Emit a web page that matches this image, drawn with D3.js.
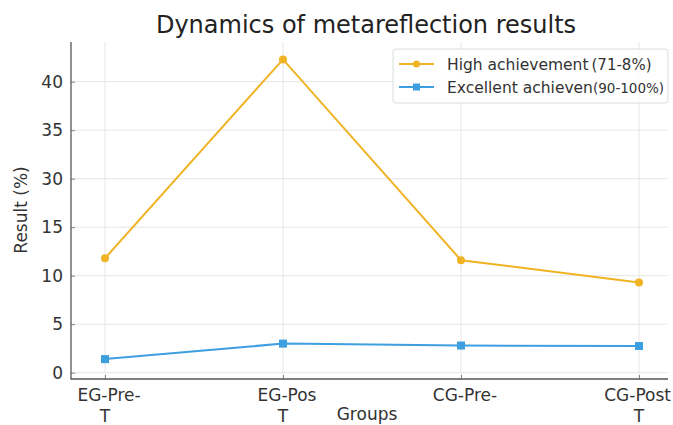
<!DOCTYPE html>
<html>
<head>
<meta charset="utf-8">
<script src="https://cdn.jsdelivr.net/npm/d3@7/dist/d3.min.js"></script>
<style>
  html, body { margin: 0; padding: 0; background: #fff; }
  svg { display: block; font-family: "DejaVu Sans", sans-serif; }
</style>
</head>
<body>
<svg id="chart" width="673" height="425"></svg>
<script>
// Groups along the x axis (each label may wrap onto a second line)
const groups = ["EG-Pre-T", "EG-Post-T", "CG-Pre-", "CG-Post-T"];
const groupLabels = [["EG-Pre-", "T"], ["EG-Pos", "T"], ["CG-Pre-", ""], ["CG-Post", "T"]];

// Series values (%)
const highAchievement = [11.8, 42.3, 11.6, 9.3];
const excellentAchievement = [1.4, 3.0, 2.8, 2.75];

// Y axis ticks as printed on the axis
const yTickValues = [0, 5, 10, 15, 30, 35, 40];
const yTickLabels = ["0", "5", "10", "15", "30", "35", "40"];

const seriesNames = ["High achievement", "Excellent achieven"];
const seriesNotes = ["(71-8%)", "(90-100%)"];

const colors = { high: "#f0b323", excellent: "#3d9fe0" };

const width = 673;
const svg = d3.select("#chart");
const plot = { left: 71, right: 668, top: 42, bottom: 379 };

// x positions of the categories
const x = d3.scalePoint().domain(groups).range([105, 639]);

// The printed ticks are evenly spaced, so the scale is piecewise linear
const tickStep = 48.5;
const y0 = 372.7;
const y = d3.scaleLinear()
  .domain(yTickValues)
  .range(yTickValues.map((d, i) => y0 - i * tickStep));

// Grid
const grid = svg.append("g").attr("stroke", "#e6e6e6").attr("stroke-width", 1);
grid.selectAll("line.h").data(yTickValues).join("line")
  .attr("x1", plot.left).attr("x2", plot.right)
  .attr("y1", d => y(d)).attr("y2", d => y(d));
grid.selectAll("line.v").data(groups).join("line")
  .attr("x1", d => x(d)).attr("x2", d => x(d))
  .attr("y1", plot.top).attr("y2", plot.bottom);

// Axes
const yAxis = d3.axisLeft(y).tickValues(yTickValues)
  .tickFormat((d, i) => yTickLabels[i]).tickSizeInner(-4).tickSizeOuter(0).tickPadding(8);
const gy = svg.append("g").attr("transform", `translate(${plot.left},0)`).call(yAxis);
gy.select(".domain").remove();
gy.selectAll(".tick line").attr("stroke", "#888");
gy.selectAll(".tick text").attr("font-size", 17).attr("fill", "#333")
  .attr("font-family", "DejaVu Sans, sans-serif");

const xAxis = d3.axisBottom(x).tickSizeInner(-4).tickSizeOuter(0).tickFormat("");
const gx = svg.append("g").attr("transform", `translate(0,${plot.bottom})`).call(xAxis);
gx.select(".domain").remove();
gx.selectAll(".tick line").attr("stroke", "#888");

// Spines
svg.append("line").attr("x1", plot.left).attr("x2", plot.left)
  .attr("y1", plot.top).attr("y2", plot.bottom + 0.5)
  .attr("stroke", "#555").attr("stroke-width", 1.3);
svg.append("line").attr("x1", plot.left).attr("x2", plot.right)
  .attr("y1", plot.bottom).attr("y2", plot.bottom)
  .attr("stroke", "#555").attr("stroke-width", 1.3);

// X tick labels (two lines), kept inside the right edge
const xl = svg.append("g").attr("font-size", 17).attr("fill", "#333").attr("text-anchor", "middle");
groups.forEach((g, i) => {
  const t = xl.append("text").attr("y", plot.bottom + 22);
  const first = t.append("tspan").attr("x", x(g) + 4).text(groupLabels[i][0]);
  const w = first.node().getComputedTextLength();
  const cx = Math.min(x(g) + 4, width - 2 - w / 2);
  first.attr("x", cx);
  t.append("tspan").attr("x", x(g)).attr("dy", 21).text(groupLabels[i][1]);
});

// Axis titles
svg.append("text").attr("x", 367).attr("y", 420).attr("text-anchor", "middle")
  .attr("font-size", 17).attr("fill", "#333").text("Groups");
svg.append("text").attr("transform", "translate(27,210) rotate(-90)")
  .attr("text-anchor", "middle").attr("font-size", 17).attr("fill", "#333").text("Result (%)");

// Title
svg.append("text").attr("x", 366).attr("y", 33).attr("text-anchor", "middle")
  .attr("font-size", 24).attr("fill", "#222").text("Dynamics of metareflection results");

// Lines and markers
const line = d3.line().x((d, i) => x(groups[i])).y(d => y(d));

svg.append("path").datum(highAchievement).attr("d", line)
  .attr("fill", "none").attr("stroke", colors.high).attr("stroke-width", 2);
svg.append("g").selectAll("circle").data(highAchievement).join("circle")
  .attr("cx", (d, i) => x(groups[i])).attr("cy", d => y(d)).attr("r", 4)
  .attr("fill", colors.high);

svg.append("path").datum(excellentAchievement).attr("d", line)
  .attr("fill", "none").attr("stroke", colors.excellent).attr("stroke-width", 2);
svg.append("g").selectAll("rect").data(excellentAchievement).join("rect")
  .attr("x", (d, i) => x(groups[i]) - 4).attr("y", d => y(d) - 4)
  .attr("width", 8).attr("height", 8).attr("fill", colors.excellent);

// Legend
const lg = svg.append("g").attr("transform", "translate(393,49)");
lg.append("rect").attr("width", 275).attr("height", 54).attr("rx", 3)
  .attr("fill", "#fff").attr("fill-opacity", 0.85).attr("stroke", "#dcdcdc");
const legendColors = [colors.high, colors.excellent];
seriesNames.forEach((name, i) => {
  const ly = 15 + i * 23;
  lg.append("line").attr("x1", 6).attr("x2", 41).attr("y1", ly).attr("y2", ly)
    .attr("stroke", legendColors[i]).attr("stroke-width", 2);
  if (i === 0) {
    lg.append("circle").attr("cx", 23.5).attr("cy", ly).attr("r", 3.5).attr("fill", legendColors[i]);
  } else {
    lg.append("rect").attr("x", 20).attr("y", ly - 3.5).attr("width", 7).attr("height", 7)
      .attr("fill", legendColors[i]);
  }
  const t = lg.append("text").attr("x", 54).attr("y", ly + 5.5).attr("font-size", 15.5).attr("fill", "#333");
  t.append("tspan").text(name);
  t.append("tspan").attr("font-size", i === 0 ? 15 : 13.5).attr("dx", i === 0 ? 3 : 0).text(seriesNotes[i]);
});
</script>
</body>
</html>
